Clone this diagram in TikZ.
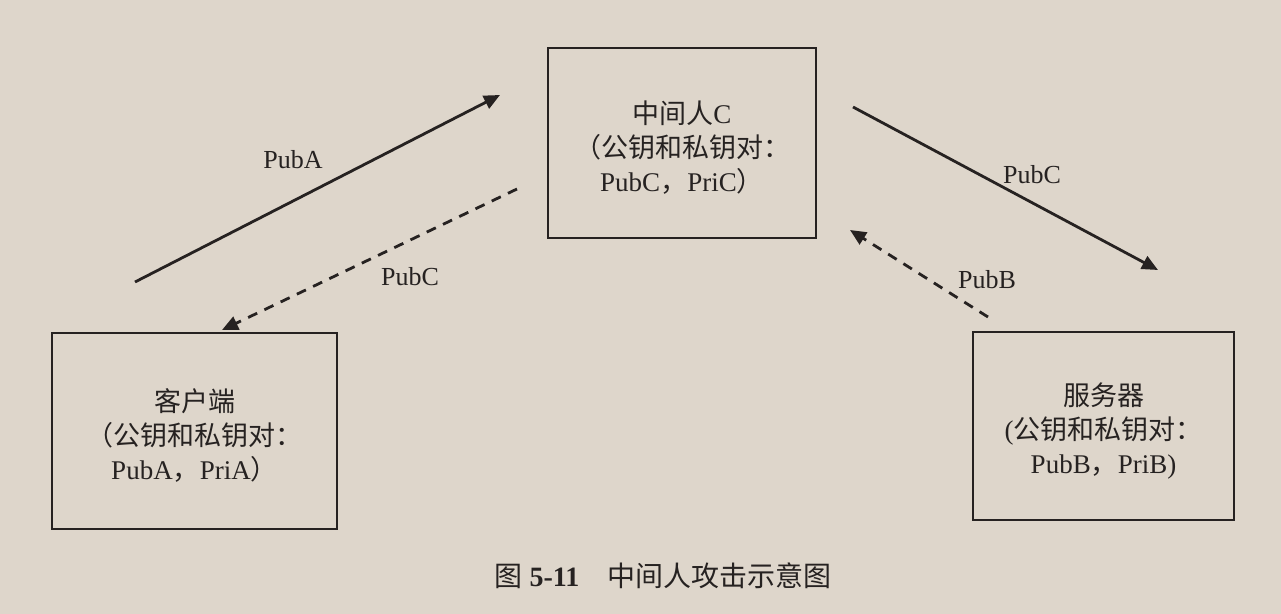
\documentclass[tikz,border=0pt]{standalone}
\usepackage{tikz}
\usepackage{fontspec}
\usepackage{xcolor}
\setmainfont{Liberation Serif}
\newfontfamily\cjk{Noto Sans CJK SC}
\usetikzlibrary{arrows.meta, positioning}
\definecolor{papercolor}{RGB}{222,214,203}
\definecolor{inkcolor}{RGB}{38,34,33}
\newcommand{\topgap}{\rule{0pt}{16pt}}

\begin{document}
\begin{tikzpicture}[x=0.5pt, y=-0.5pt,
    party/.style={draw=inkcolor, line width=1pt, align=center, text=inkcolor,
        font=\fontsize{13.5}{17}\selectfont, inner sep=0pt},
    sendarrow/.style={draw=inkcolor, line width=1.4pt, -{Triangle[length=8pt,width=7pt]}},
    backarrow/.style={sendarrow, dash pattern=on 5pt off 4pt},
    keylabel/.style={text=inkcolor, font=\fontsize{13}{15}\selectfont}]
    \fill[papercolor] (0,0) rectangle (1281,614);
    \useasboundingbox (0,0) rectangle (1281,614);

    % the three parties
    \node[party, minimum width=134pt, minimum height=95pt] (mitm) at (682,143)
        {\topgap{\cjk 中间人}C\\{\cjk （公钥和私钥对：}\\PubC{\cjk ，}PriC{\cjk ）}};
    \node[party, minimum width=142.5pt, minimum height=98pt] (client) at (194.5,431)
        {\topgap{\cjk 客户端}\\{\cjk （公钥和私钥对：}\\PubA{\cjk ，}PriA{\cjk ）}};
    \node[party, minimum width=130.5pt, minimum height=94pt] (server) at (1103.5,426)
        {\topgap{\cjk 服务器}\\({\cjk 公钥和私钥对：}\\PubB{\cjk ，}PriB)};

    % free ends of the key exchange arrows
    \coordinate (pubAfrom) at (135,282);
    \coordinate (pubAto) at (500,95);
    \coordinate (fakeCfrom) at (517,189);
    \coordinate (fakeCto) at (222,330);
    \coordinate (pubCfrom) at (853,107);
    \coordinate (pubCto) at (1158,270);
    \coordinate (pubBfrom) at (988,317);
    \coordinate (pubBto) at (850,230);

    \draw[sendarrow] (pubAfrom) -- (pubAto);
    \draw[backarrow] (fakeCfrom) -- (fakeCto);
    \draw[sendarrow] (pubCfrom) -- (pubCto);
    \draw[backarrow] (pubBfrom) -- (pubBto);

    \node[keylabel] (pubAlabel) at (293,160) {PubA};
    \node[keylabel] (fakeClabel) at (410,277) {PubC};
    \node[keylabel] (pubClabel) at (1032,175) {PubC};
    \node[keylabel] (pubBlabel) at (987,280) {PubB};

    % caption
    \node[keylabel, font=\fontsize{14}{16}\selectfont] (caption) at (663,576)
        {{\cjk 图} \textbf{5-11}\quad{\cjk 中间人攻击示意图}};
\end{tikzpicture}
\end{document}
